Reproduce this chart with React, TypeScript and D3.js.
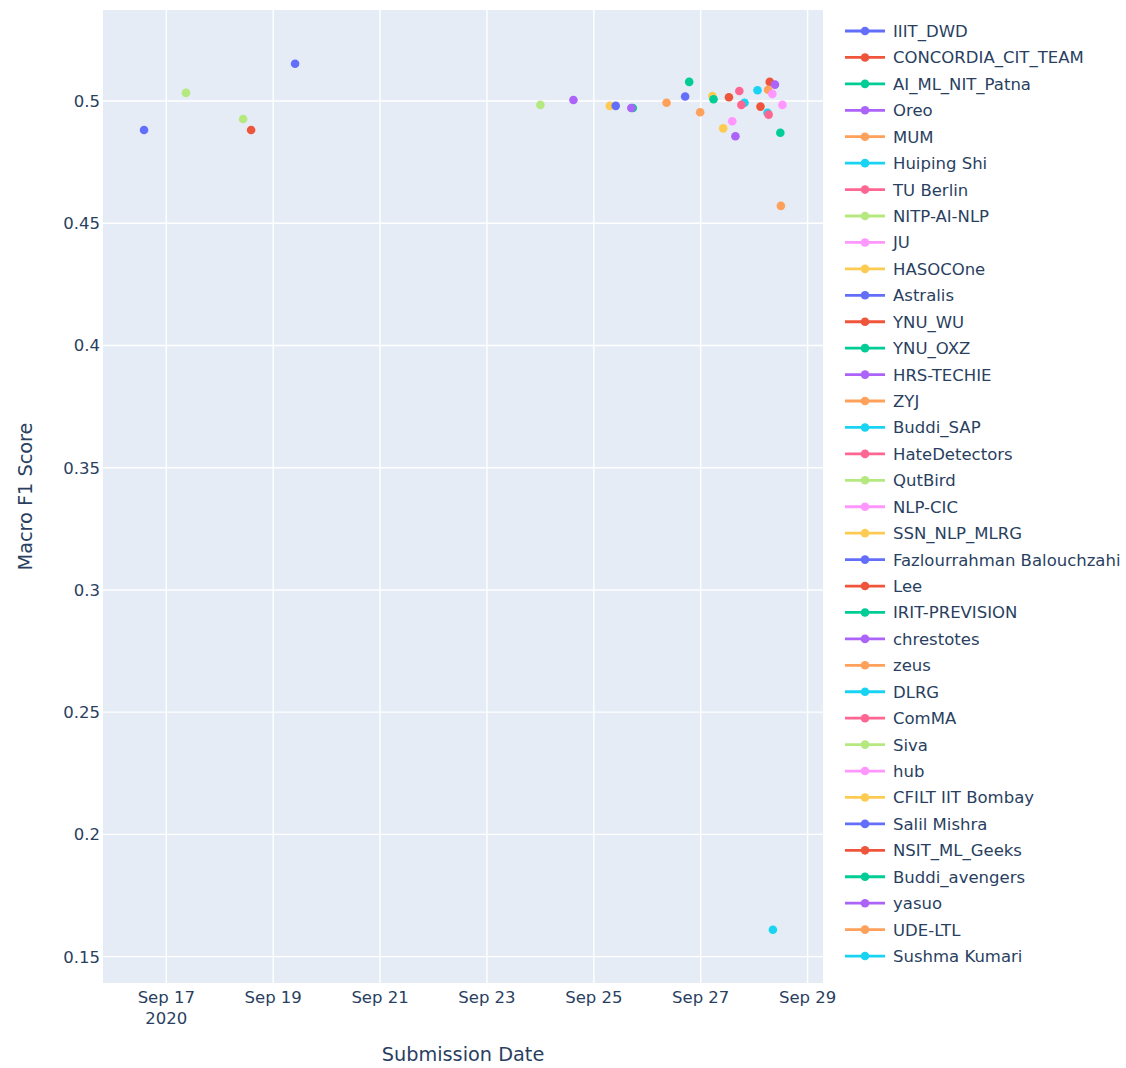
import React from "react";
import * as d3 from "d3";

const teams = [
  "IIIT_DWD", "CONCORDIA_CIT_TEAM", "AI_ML_NIT_Patna", "Oreo", "MUM", "Huiping Shi",
  "TU Berlin", "NITP-AI-NLP", "JU", "HASOCOne", "Astralis", "YNU_WU", "YNU_OXZ",
  "HRS-TECHIE", "ZYJ", "Buddi_SAP", "HateDetectors", "QutBird", "NLP-CIC",
  "SSN_NLP_MLRG", "Fazlourrahman Balouchzahi", "Lee", "IRIT-PREVISION", "chrestotes",
  "zeus", "DLRG", "ComMA", "Siva", "hub", "CFILT IIT Bombay", "Salil Mishra",
  "NSIT_ML_Geeks", "Buddi_avengers", "yasuo", "UDE-LTL", "Sushma Kumari",
];

const submissionDates = [
  "2020-09-19T09:50", "2020-09-28T07:00", "2020-09-26T18:50", "2020-09-28T09:20",
  "2020-09-28T06:15", "2020-09-28T01:30", "2020-09-27T17:20", "2020-09-17T08:50",
  "2020-09-28T08:10", "2020-09-27T05:15", "2020-09-26T17:00", "2020-09-27T12:40",
  "2020-09-27T05:45", "2020-09-24T14:50", "2020-09-26T08:40", "2020-09-27T19:40",
  "2020-09-27T18:15", "2020-09-24T00:00", "2020-09-28T12:40", "2020-09-25T07:10",
  "2020-09-25T09:50", "2020-09-28T02:50", "2020-09-25T17:30", "2020-09-25T16:50",
  "2020-09-26T23:45", "2020-09-28T06:00", "2020-09-28T06:30", "2020-09-18T10:30",
  "2020-09-27T14:10", "2020-09-27T10:05", "2020-09-16T14:00", "2020-09-18T14:05",
  "2020-09-28T11:45", "2020-09-27T15:35", "2020-09-28T12:00", "2020-09-28T08:25",
];

const macroF1 = [
  0.5152, 0.5078, 0.5078, 0.5067, 0.5046, 0.5044, 0.5041, 0.5033, 0.5029, 0.502,
  0.5018, 0.5015, 0.5007, 0.5004, 0.4993, 0.4993, 0.4984, 0.4984, 0.4984, 0.498,
  0.498, 0.4977, 0.4971, 0.4971, 0.4954, 0.4952, 0.4944, 0.4926, 0.4917, 0.4888,
  0.4881, 0.4881, 0.487, 0.4856, 0.4571, 0.161,
];

const palette = ["#636efa", "#EF553B", "#00cc96", "#ab63fa", "#FFA15A", "#19d3f3", "#FF6692", "#B6E880", "#FF97FF", "#FECB52"];

const yTicks = [0.15, 0.2, 0.25, 0.3, 0.35, 0.4, 0.45, 0.5];
const yTickLabels = ["0.15", "0.2", "0.25", "0.3", "0.35", "0.4", "0.45", "0.5"];
const xTicks = ["2020-09-17", "2020-09-19", "2020-09-21", "2020-09-23", "2020-09-25", "2020-09-27", "2020-09-29"];
const xTickLabels = ["Sep 17", "Sep 19", "Sep 21", "Sep 23", "Sep 25", "Sep 27", "Sep 29"];

const W = 1126, H = 1068;
const plot = { left: 103, right: 823, top: 10, bottom: 983 };
const font = "'DejaVu Sans', Verdana, sans-serif";
const textColor = "#2a3f5f";
const fs = 16.5;
const titleFs = 19.3;

const parse = (s: string) => new Date(s);

export default function App() {
  const x = d3.scaleTime()
    .domain([parse("2020-09-15T19:34"), parse("2020-09-29T06:55")])
    .range([plot.left, plot.right]);
  const y = d3.scaleLinear().domain([0.13922, 0.53721]).range([plot.bottom, plot.top]);

  const legendX = 845;
  const legendY0 = 31;
  const legendStep = 26.43;

  return (
    <svg width={W} height={H} style={{ position: "absolute", left: 0, top: 0, background: "#fff" }} fontFamily={font}>
      <rect x={plot.left} y={plot.top} width={plot.right - plot.left} height={plot.bottom - plot.top} fill="#E5ECF6" />
      {yTicks.map((t) => (
        <line key={"gy" + t} x1={plot.left} x2={plot.right} y1={y(t)} y2={y(t)} stroke="#fff" strokeWidth={1.4} />
      ))}
      {xTicks.map((t) => (
        <line key={"gx" + t} x1={x(parse(t + "T00:00"))} x2={x(parse(t + "T00:00"))} y1={plot.top} y2={plot.bottom} stroke="#fff" strokeWidth={1.4} />
      ))}
      {yTicks.map((t, i) => (
        <text key={"ty" + t} x={plot.left - 3} y={y(t)} dy="0.36em" textAnchor="end" fontSize={fs} fill={textColor}>
          {yTickLabels[i]}
        </text>
      ))}
      {xTicks.map((t, i) => {
        const px = x(parse(t + "T00:00"));
        return (
          <g key={"tx" + t}>
            <text x={px} y={1003} textAnchor="middle" fontSize={fs} fill={textColor}>{xTickLabels[i]}</text>
            {i === 0 && (
              <text x={px} y={1024} textAnchor="middle" fontSize={fs} fill={textColor}>2020</text>
            )}
          </g>
        );
      })}
      <text x={(plot.left + plot.right) / 2} y={1061} textAnchor="middle" fontSize={titleFs} fill={textColor}>Submission Date</text>
      <text transform={`translate(32,${(plot.top + plot.bottom) / 2}) rotate(-90)`} textAnchor="middle" fontSize={titleFs} fill={textColor}>Macro F1 Score</text>

      <g>
        {teams.map((name, i) => (
          <circle
            key={"p" + name}
            cx={x(parse(submissionDates[i]))}
            cy={y(macroF1[i])}
            r={4.3}
            fill={palette[i % palette.length]}
          />
        ))}
      </g>

      <g>
        {teams.map((name, i) => {
          const cy = legendY0 + i * legendStep;
          const c = palette[i % palette.length];
          return (
            <g key={"l" + name}>
              <line x1={legendX} x2={legendX + 40} y1={cy} y2={cy} stroke={c} strokeWidth={2.8} />
              <circle cx={legendX + 20} cy={cy} r={4.3} fill={c} />
              <text x={893} y={cy} dy="0.36em" fontSize={fs} fill={textColor}>{name}</text>
            </g>
          );
        })}
      </g>
    </svg>
  );
}
